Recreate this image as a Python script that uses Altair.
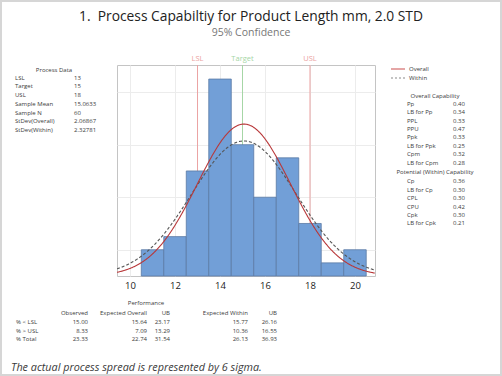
import altair as alt
import pandas as pd

# ---------------- data ----------------
title_text = "1.\u00a0 Process Capabiltiy for Product Length mm, 2.0 STD"
subtitle_text = "95% Confidence"
footer_text = "The actual process spread is represented by 6 sigma."

bin_lo = [10.5, 11.5, 12.5, 13.5, 14.5, 15.5, 16.5, 17.5, 18.5, 19.5]
bin_hi = [11.5, 12.5, 13.5, 14.5, 15.5, 16.5, 17.5, 18.5, 19.5, 20.5]
counts = [2, 3, 8, 15, 10, 6, 9, 4, 1, 2]

spec_names = ["LSL", "Target", "USL"]
spec_values = [13, 15, 18]

sample_mean = 15.0633
sample_n = 60
sd_overall = 2.06867
sd_within = 2.32781
bin_width = 1.0

x_ticks = [10, 12, 14, 16, 18, 20]
y_grid = [2, 4, 6, 8, 10, 12, 14, 16]

proc_labels = ["LSL", "Target", "USL", "Sample Mean", "Sample N", "StDev(Overall)", "StDev(Within)"]
proc_values = ["13", "15", "18", "15.0633", "60", "2.06867", "2.32781"]

overall_labels = ["Pp", "LB for Pp", "PPL", "PPU", "Ppk", "LB for Ppk", "Cpm", "LB for Cpm"]
overall_values = ["0.40", "0.34", "0.33", "0.47", "0.33", "0.25", "0.32", "0.28"]
within_labels = ["Cp", "LB for Cp", "CPL", "CPU", "Cpk", "LB for Cpk"]
within_values = ["0.36", "0.30", "0.30", "0.42", "0.30", "0.21"]

perf_headers = ["Observed", "Expected Overall", "UB", "Expected Within", "UB"]
perf_rows = ["% < LSL", "% > USL", "% Total"]
perf_observed = ["15.00", "8.33", "23.33"]
perf_exp_overall = ["15.64", "7.09", "22.74"]
perf_ub_overall = ["23.17", "13.29", "31.54"]
perf_exp_within = ["15.77", "10.36", "26.13"]
perf_ub_within = ["26.16", "16.55", "36.93"]

# ---------------- layout ----------------
W, H = 258, 211
X0, Y0 = 117, 65
FONT = "Open Sans"
TXT = "#3a3a3a"
FS = 6.0

xs = alt.Scale(domain=[9.42, 20.89], nice=False, zero=False)
ys = alt.Scale(domain=[0, 16.07], nice=False)

one = pd.DataFrame({"a": [0]})


def txt(s, x, y, align="left", size=FS, color=TXT, lh=None, **kw):
    props = dict(align=align, baseline="alphabetic", font=FONT, fontSize=size, color=color, **kw)
    if lh is not None:
        props["lineBreak"] = "\n"
        props["lineHeight"] = lh
    return alt.Chart(one).mark_text(**props).encode(
        x=alt.value(x - X0), y=alt.value(y - Y0 + size * 0.36), text=alt.value(s)
    )


bins_df = pd.DataFrame({"lo": bin_lo, "hi": bin_hi, "count": counts})
spec_df = pd.DataFrame({"name": spec_names, "value": spec_values})

bars = alt.Chart(bins_df).mark_bar(fill="#729FD7", stroke="#5B7AA5", strokeWidth=0.8).encode(
    x=alt.X("lo:Q", scale=xs, title=None,
            axis=alt.Axis(values=x_ticks, grid=True, gridColor="#ececec", domain=False,
                          ticks=False, labelFont=FONT, labelFontSize=9.5,
                          labelColor="#222", labelPadding=4)),
    x2="hi:Q",
    y=alt.Y("count:Q", scale=ys, title=None,
            axis=alt.Axis(values=y_grid, labels=False, ticks=False, domain=False,
                          grid=True, gridColor="#ececec")),
    y2=alt.datum(0),
)

spec_rules = alt.Chart(spec_df).mark_rule(strokeWidth=1).encode(
    x=alt.X("value:Q", scale=xs),
    y=alt.value(0), y2=alt.value(H),
    color=alt.Color("name:N", scale=alt.Scale(domain=spec_names, range=["#EBA3A3", "#A6D6A6", "#EBA3A3"]), legend=None),
)
spec_text = alt.Chart(spec_df).mark_text(baseline="alphabetic", font=FONT, fontSize=7.5).encode(
    x=alt.X("value:Q", scale=xs),
    y=alt.value(-4),
    text="name:N",
    color=alt.Color("name:N", scale=alt.Scale(domain=spec_names, range=["#B23A3A", "#2F7F34", "#B23A3A"]), legend=None),
)


def curve(sd, color, dash=None):
    props = dict(color=color, strokeWidth=1.1, clip=True)
    if dash:
        props["strokeDash"] = dash
    return alt.Chart(alt.sequence(9.42, 20.9, 0.02, as_="x")).transform_calculate(
        y=f"{sample_n}*{bin_width}*exp(-0.5*pow((datum.x-{sample_mean})/{sd},2))/({sd}*sqrt(2*PI))"
    ).mark_line(**props).encode(x=alt.X("x:Q", scale=xs), y=alt.Y("y:Q", scale=ys))


within_curve = curve(sd_within, "#555555", [3, 2])
overall_curve = curve(sd_overall, "#B8383A")

border = alt.Chart(one).mark_rect(fill=None, stroke="#d6d6d6", strokeWidth=2).encode(
    x=alt.value(-X0 + 1), x2=alt.value(502 - X0 - 1), y=alt.value(-Y0 + 1), y2=alt.value(376 - Y0 - 1)
)

leg_red = alt.Chart(one).mark_rule(color="#D46A6A", strokeWidth=1.2).encode(
    x=alt.value(391 - X0), x2=alt.value(405 - X0), y=alt.value(69 - Y0))
leg_grey = alt.Chart(one).mark_rule(color="#8a8a8a", strokeWidth=1.2, strokeDash=[2, 2]).encode(
    x=alt.value(391 - X0), x2=alt.value(405 - X0), y=alt.value(78 - Y0))

layers = [
    border, spec_rules, bars, within_curve, overall_curve, spec_text,
    txt(title_text, 251, 16.5, align="center", size=13.8, color="#222"),
    txt(subtitle_text, 251, 32.5, align="center", size=10.5, color="#777"),
    # process data
    txt("Process Data", 54, 70, align="center"),
    txt("\n".join(proc_labels), 15, 77.5, lh=8.75),
    txt("\n".join(proc_values), 74, 77.5, lh=8.75),
    # legend
    leg_red, leg_grey,
    txt("Overall", 409, 69),
    txt("Within", 409, 78),
    # capability
    txt("Overall Capability", 435, 95.5, align="center"),
    txt("\n".join(overall_labels), 407, 103.5, lh=8.45),
    txt("\n".join(overall_values), 453, 103.5, lh=8.45),
    txt("Potential (Within) Capability", 435, 172, align="center"),
    txt("\n".join(within_labels), 407, 181, lh=8.45),
    txt("\n".join(within_values), 453, 181, lh=8.45),
    # performance
    txt("Performance", 146, 303, align="center"),
    txt("\n".join(perf_rows), 16, 322, lh=8.6),
]
for hdr, xr, vals in zip(perf_headers, [88, 147, 170, 248, 277],
                         [perf_observed, perf_exp_overall, perf_ub_overall, perf_exp_within, perf_ub_within]):
    layers.append(txt(hdr, xr, 313, align="right"))
    layers.append(txt("\n".join(vals), xr, 322, align="right", lh=8.6))

layers.append(txt(footer_text, 11, 367, size=10.8, fontStyle="italic"))

chart = alt.layer(*layers).properties(
    width=W, height=H,
    autosize=alt.AutoSizeParams(type="none"),
    padding={"left": X0, "top": Y0, "right": 502 - X0 - W, "bottom": 376 - Y0 - H},
    background="white",
).configure_view(stroke="#c4c4c4", strokeWidth=1)

chart.save("out.html", embed_options={"renderer": "svg", "actions": False})
